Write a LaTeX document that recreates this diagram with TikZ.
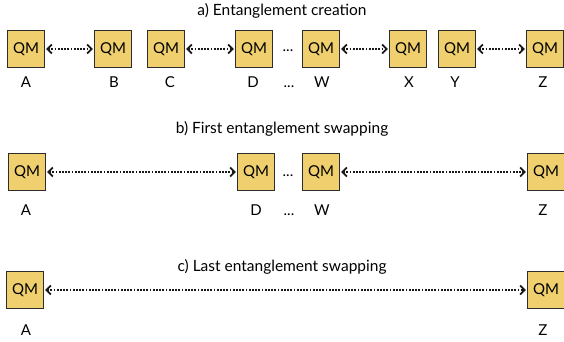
\documentclass[tikz,border=0pt]{standalone}
\usepackage{fontspec}
\setmainfont{Lato}
\usetikzlibrary{arrows.meta}
\definecolor{qmfill}{RGB}{240,208,110}
\definecolor{qmline}{RGB}{45,45,45}
\tikzset{
  qm/.style={draw=qmline, line width=1.3pt, fill=qmfill, minimum width=37pt, minimum height=37pt, inner sep=0pt, font=\fontsize{15}{15}\selectfont},
  lbl/.style={font=\fontsize{15}{15}\selectfont, inner sep=0pt},
  dots/.style={font=\fontsize{15}{15}\selectfont, inner sep=0pt, anchor=base},
  ttl/.style={font=\fontsize{15.5}{15.5}\selectfont, inner sep=0pt},
  link/.style={draw=black!90, line width=2pt, dash pattern=on 1.8pt off 1.4pt, {Straight Barb[length=4.5pt,width=9pt,line width=1.7pt]}-{Straight Barb[length=4.5pt,width=9pt,line width=1.7pt]}, shorten <=1pt, shorten >=1pt},
}
\begin{document}
\begin{tikzpicture}[x=1pt,y=-1pt]
\useasboundingbox (0,0) rectangle (564,342);
% row a
\node[ttl] (ta) at (282,11) {a) Entanglement creation};
\node[qm] (a1) at (26,49) {QM};
\node[qm] (b1) at (113,49) {QM};
\node[qm] (c1) at (166,49) {QM};
\node[qm] (d1) at (254,49) {QM};
\node[qm] (w1) at (321,49) {QM};
\node[qm] (x1) at (408,49) {QM};
\node[qm] (y1) at (457,49) {QM};
\node[qm] (z1) at (545,49) {QM};
\node[dots] (e1) at (288,52) {...};
\draw[link] (a1) -- (b1);
\draw[link] (c1) -- (d1);
\draw[link] (w1) -- (x1);
\draw[link] (y1) -- (z1);
\node[lbl] (la1) at (26,82) {A};
\node[lbl] (lb1) at (114,82) {B};
\node[lbl] (lc1) at (170,82) {C};
\node[lbl] (ld1) at (253,82) {D};
\node[dots] (le1) at (289,88) {...};
\node[lbl] (lw1) at (322,82) {W};
\node[lbl] (lx1) at (409,82) {X};
\node[lbl] (ly1) at (455,82) {Y};
\node[lbl] (lz1) at (543,82) {Z};
% row b
\node[ttl] (tb) at (282,129) {b) First entanglement swapping};
\node[qm] (a2) at (27,172) {QM};
\node[qm] (d2) at (256,172) {QM};
\node[qm] (w2) at (321,172) {QM};
\node[qm] (z2) at (546,172) {QM};
\node[dots] (e2) at (288,176) {...};
\draw[link] (a2) -- (d2);
\draw[link] (w2) -- (z2);
\node[lbl] (la2) at (26,210) {A};
\node[lbl] (ld2) at (256,210) {D};
\node[dots] (le2) at (289,215) {...};
\node[lbl] (lw2) at (322,210) {W};
\node[lbl] (lz2) at (543,210) {Z};
% row c
\node[ttl] (tc) at (282,267) {c) Last entanglement swapping};
\node[qm] (a3) at (25,290) {QM};
\node[qm] (z3) at (546,290) {QM};
\draw[link] (a3) -- (z3);
\node[lbl] (la3) at (26,330) {A};
\node[lbl] (lz3) at (543,330) {Z};
\end{tikzpicture}
\end{document}
